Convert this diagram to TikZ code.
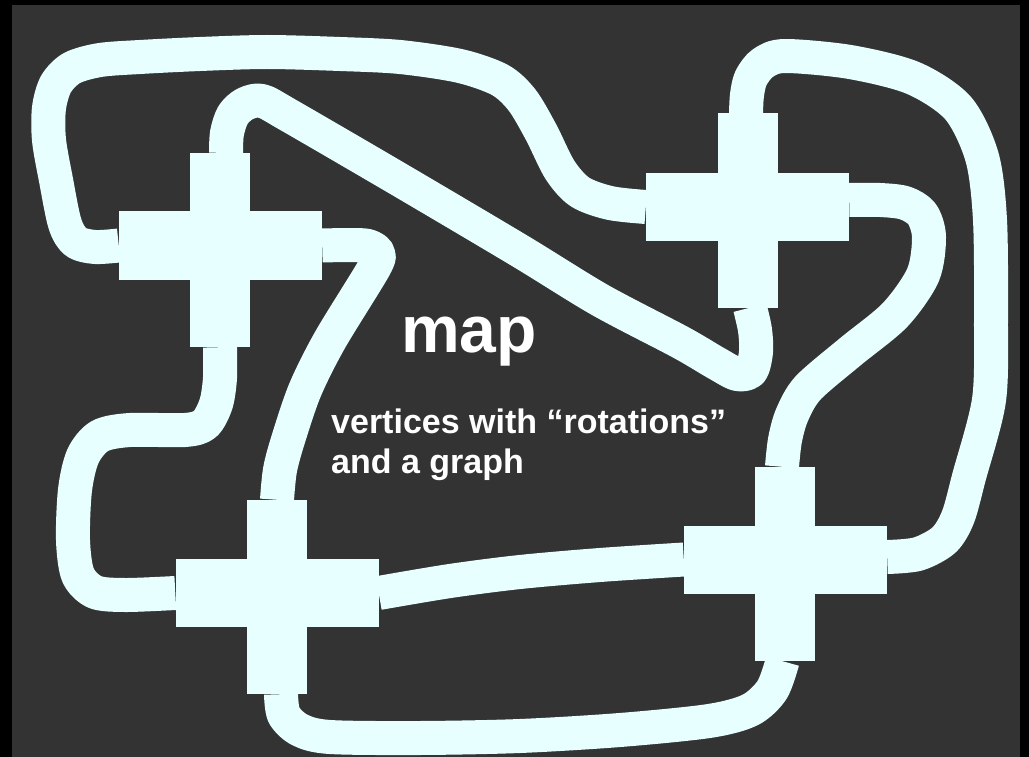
\documentclass[tikz,border=0pt]{standalone}
\usepackage{fontspec}
\setmainfont{Liberation Sans}
\usetikzlibrary{calc}
\definecolor{bggray}{RGB}{51,51,51}
\definecolor{tubecol}{RGB}{232,255,255}
\begin{document}
\begin{tikzpicture}[x=1pt,y=-1pt,
  tube/.style={draw=tubecol, line width=34pt, line cap=butt, line join=round},
  hbar/.style={fill=tubecol, draw=none, inner sep=0pt, minimum width=203pt, minimum height=68pt},
  vbar/.style={fill=tubecol, draw=none, inner sep=0pt, minimum width=60pt, minimum height=194pt},
  lbl/.style={text=white, anchor=base west, inner sep=0pt}]
\useasboundingbox (0,0) rectangle (1029,757);
\fill[black] (0,0) rectangle (1029,757);
\fill[bggray] (12,5) rectangle (1020,757);

% vertices (crosses)
\node[vbar] (Av) at (220,250) {};
\node[hbar] (Ah) at (220.5,245.5) {};
\node[vbar] (Bv) at (747.5,210.5) {};
\node[hbar] (Bh) at (747.5,207) {};
\node[vbar] (Cv) at (277,597) {};
\node[hbar] (Ch) at (277,593) {};
\node[vbar] (Dv) at (785,564) {};
\node[hbar] (Dh) at (785.5,559.5) {};

\coordinate (At) at ($(Av.north)+(6,0)$);
\coordinate (Bb) at ($(Bv.south)+(2.5,0)$);
\coordinate (Cb) at ($(Cv.south)+(4,0)$);
\coordinate (Db) at ($(Dv.south)+(-2.5,0)$);
\coordinate (Br) at ($(Bh.east)+(0,-7)$);
\coordinate (Dt) at ($(Dv.north)+(-3,0)$);
\coordinate (Bt) at ($(Bv.north)+(-1.5,0)$);
\coordinate (Dr) at ($(Dh.east)+(0,-2.5)$);

% edges (tubes)
\draw[tube] plot[smooth, tension=0.5] coordinates {(Ah.west) (95,247) (76,242) (65,224) (56,180) (49,140) (49,108) (56,84) (72,68) (100,60) (140,57) (200,54) (267,52) (340,54) (400,57) (460,66) (500,80) (522,100) (541,132) (560,170) (580,192) (610,203) (Bh.west)};
\draw[tube] plot[smooth, tension=0.5] coordinates {(At) (227,133) (233,115) (245,104) (262,101) (290,116) (400,180) (520,251) (600,300) (680,342) (716,363) (737,374) (751,371) (756,352) (755,330) (Bb)};
\draw[tube] plot[smooth, tension=0.5] coordinates {(Ah.east) (350,245) (368,246) (378,253) (374,268) (330,340) (305,390) (288,440) (280,470) (Cv.north)};
\draw[tube] plot[smooth, tension=0.5] coordinates {(Av.south) (220,378) (216,404) (205,424) (185,430) (130,430) (100,436) (83,456) (75,490) (73,540) (78,575) (95,592) (125,595) (Ch.west)};
\draw[tube] plot[smooth, tension=0.5] coordinates {(Ch.east) (450,581) (520,572) (600,565) (Dh.west)};
\draw[tube] plot[smooth, tension=0.5] coordinates {(Cb) (284,715) (300,730) (330,737) (420,738) (520,736) (620,730) (709,721) (750,710) (772,690) (Db)};
\draw[tube] plot[smooth, tension=0.5] coordinates {(Br) (880,200) (905,203) (922,214) (929,237) (923,275) (895,315) (850,352) (808,388) (792,415) (785,440) (Dt)};
\draw[tube] plot[smooth, tension=0.5] coordinates {(Bt) (747,95) (751,78) (763,63) (785,56) (850,62) (913,78) (958,108) (982,157) (990,220) (991,320) (989,400) (969,477) (958,517) (944,540) (918,554) (Dr)};

% labels
\node[lbl, font=\bfseries\fontsize{66}{66}\selectfont] (title) at (401,352) {map};
\node[lbl, font=\bfseries\fontsize{34}{40}\selectfont] (line1) at (331,433) {vertices with “rotations”};
\node[lbl, font=\bfseries\fontsize{34}{40}\selectfont] (line2) at (331,473) {and a graph};
\end{tikzpicture}
\end{document}
